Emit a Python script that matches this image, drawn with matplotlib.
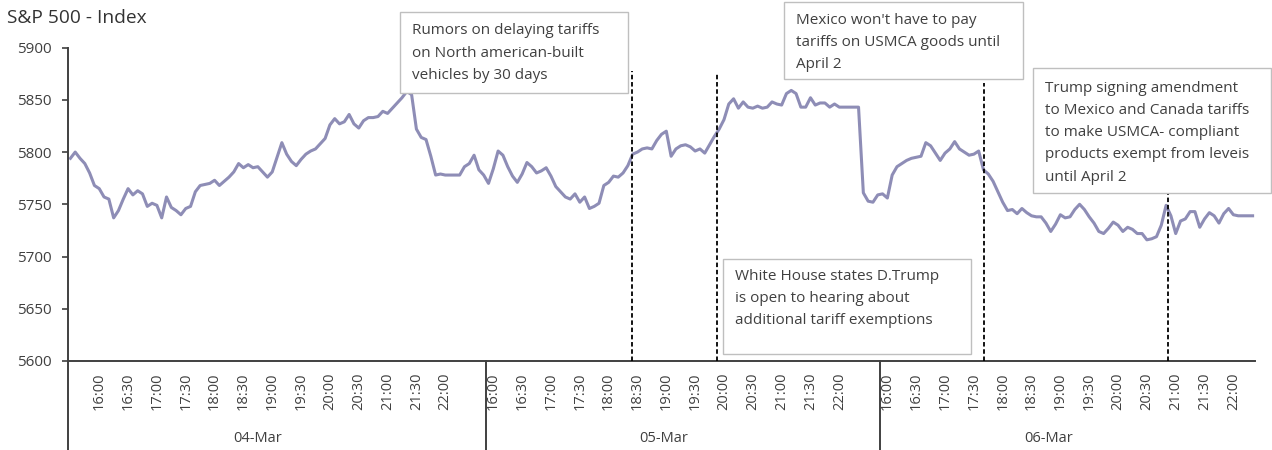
import matplotlib.pyplot as plt
import numpy as np
from matplotlib.patches import Rectangle
from matplotlib.transforms import blended_transform_factory

plt.rcParams['font.family'] = ['Open Sans', 'DejaVu Sans']

# S&P 500 index, 5-minute points per trading day
day1 = [5794, 5800, 5794, 5789, 5780, 5768, 5765, 5757, 5755, 5737,
        5744, 5755, 5765, 5759, 5763, 5760, 5748, 5751, 5749, 5737,
        5757, 5747, 5744, 5740, 5746, 5748, 5762, 5768, 5769, 5770,
        5773, 5768, 5772, 5776, 5781, 5789, 5785, 5788, 5785, 5786,
        5781, 5776, 5781, 5795, 5809, 5798, 5791, 5787, 5793, 5798,
        5801, 5803, 5808, 5813, 5826, 5832, 5827, 5829, 5836, 5827,
        5823, 5830, 5833, 5833, 5834, 5839, 5837, 5842, 5847, 5852,
        5858, 5855, 5822, 5814, 5812, 5796, 5778, 5779, 5778, 5778,
        5778, 5778, 5786, 5789, 5797, 5783, 5778]
day2 = [5770, 5784, 5801, 5797, 5786, 5777, 5771, 5779, 5790, 5786,
        5780, 5782, 5785, 5777, 5767, 5762, 5757, 5755, 5760, 5752,
        5757, 5746, 5748, 5751, 5768, 5771, 5777, 5776, 5780, 5787,
        5798, 5800, 5803, 5804, 5803, 5811, 5817, 5820, 5796, 5803,
        5806, 5807, 5805, 5801, 5803, 5799, 5807, 5815, 5822, 5831,
        5846, 5851, 5842, 5848, 5843, 5842, 5844, 5842, 5843, 5848,
        5846, 5845, 5856, 5859, 5856, 5843, 5843, 5852, 5845, 5847,
        5847, 5843, 5846, 5843, 5843, 5843, 5843, 5843, 5761, 5753,
        5752, 5759]
day3 = [5760, 5756, 5778, 5786, 5789, 5792, 5794, 5795, 5796, 5809,
        5806, 5799, 5792, 5799, 5803, 5810, 5803, 5800, 5797, 5798,
        5801, 5783, 5779, 5772, 5762, 5752, 5744, 5745, 5741, 5746,
        5742, 5739, 5738, 5738, 5732, 5724, 5731, 5740, 5737, 5738,
        5745, 5750, 5745, 5738, 5732, 5724, 5722, 5727, 5733, 5730,
        5724, 5728, 5726, 5722, 5722, 5716, 5717, 5719, 5730, 5749,
        5739, 5722, 5734, 5736, 5743, 5743, 5728, 5736, 5742, 5739,
        5732, 5741, 5746, 5740, 5739, 5739, 5739, 5739]

day_names = ['04-Mar', '05-Mar', '06-Mar']
time_labels = ['16:00', '16:30', '17:00', '17:30', '18:00', '18:30', '19:00',
               '19:30', '20:00', '20:30', '21:00', '21:30', '22:00']
first_label_idx = [6, 1, 1]   # position of 16:00 inside each day
label_step = 6                # 6 x 5 min = 30 min

# events: (day, position within day, top of dashed line)
event_day = [1, 1, 2, 2]
event_pos = [29.9, 47.5, 21.1, 59.4]
event_top = [5878, 5875, 5866, 5761]

notes = [
    ["Rumors on delaying tariffs", "on North american-built", "vehicles by 30 days"],
    ["Mexico won't have to pay", "tariffs on USMCA goods until", "April 2"],
    ["Trump signing amendment", "to Mexico and Canada tariffs",
     "to make USMCA- compliant", "products exempt from leveis", "until April 2"],
    ["White House states D.Trump", "is open to hearing about",
     "additional tariff exemptions"],
]
# box layout in pixels: x0, y0, x1, y1, first text line centre
note_boxes = [(400, 12, 628, 93, 31), (784, 2, 1023, 79, 20),
              (1033, 68, 1271, 193, 88), (723, 259, 971, 354, 276)]

W, H = 1272, 450
dark = '#404040'
line_color = '#8E8DB6'

days = [day1, day2, day3]
values = np.concatenate(days)
x = np.arange(len(values))
offsets = np.cumsum([0] + [len(d) for d in days])

fig = plt.figure(figsize=(W / 100, H / 100), dpi=100)
ax = fig.add_axes([68 / W, 1 - 361 / H, (1255 - 68) / W, (361 - 47.6) / H])

ax.plot(x, values, color=line_color, lw=2.2, solid_joinstyle='round')
ax.set_xlim(-0.5, len(values) - 0.5)
ax.set_ylim(5600, 5900)
ax.set_yticks(np.arange(5600, 5901, 50))

for s in ['top', 'right']:
    ax.spines[s].set_visible(False)
for s in ['left', 'bottom']:
    ax.spines[s].set_color(dark)
    ax.spines[s].set_linewidth(1.4)

ax.tick_params(axis='y', colors=dark, labelsize=11, length=4, width=1.2, pad=8)

# time ticks
ticks, labels = [], []
for off, first in zip(offsets[:-1], first_label_idx):
    for k, lab in enumerate(time_labels):
        ticks.append(off + first + k * label_step)
        labels.append(lab)
ax.set_xticks(ticks)
ax.set_xticklabels(labels, rotation=90)
ax.tick_params(axis='x', colors=dark, labelsize=10.5, length=0, pad=8)

trans = blended_transform_factory(ax.transData, ax.transAxes)
for i, name in enumerate(day_names):
    start, end = offsets[i] - 0.5, offsets[i + 1] - 0.5
    ax.plot([start, start], [0, -0.29], transform=trans, clip_on=False,
            color=dark, lw=1.4)
    ax.text((start + end) / 2 - 4, -0.246, name, transform=trans,
            ha='center', va='center', fontsize=10.5, color=dark)

# event dashed lines
for d, p, top in zip(event_day, event_pos, event_top):
    xe = offsets[d] + p
    ax.plot([xe, xe], [5600, top], color='black', lw=1.3,
            ls=(0, (2.5, 1.5)), zorder=3, clip_on=False)

# annotation boxes
for lines, (x0, y0, x1, y1, ty) in zip(notes, note_boxes):
    fig.patches.append(Rectangle((x0 / W, 1 - y1 / H), (x1 - x0) / W, (y1 - y0) / H,
                                 transform=fig.transFigure, facecolor='white',
                                 edgecolor='#BFBFBF', lw=1.0, zorder=5))
    for j, line in enumerate(lines):
        fig.text((x0 + 12) / W, 1 - (ty + j * 22.3) / H, line, ha='left',
                 va='center', fontsize=11, color=dark, zorder=6)

fig.text(7 / W, 1 - 18 / H, 'S&P 500 - Index', ha='left', va='center',
         fontsize=13.8, color='#333333')

fig.savefig('out.png', dpi=100)
